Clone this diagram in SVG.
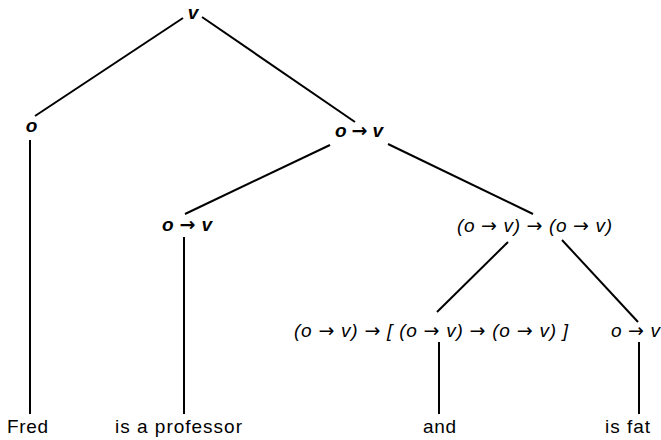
<svg xmlns="http://www.w3.org/2000/svg" width="661" height="440" viewBox="0 0 661 440">
<style>
.lab{font-family:"Liberation Sans","DejaVu Sans",sans-serif;font-style:italic;font-size:19px;fill:#000}
.b{font-weight:bold}
.ar{font-family:"DejaVu Sans",sans-serif;font-style:normal;font-size:19px}
.word{font-family:"Liberation Sans","DejaVu Sans",sans-serif;font-size:19px;fill:#000}
.edge{stroke:#000;stroke-width:2;fill:none;stroke-linecap:butt}
</style>
<rect width="661" height="440" fill="#fff"/>
<g id="connectors">
<line class="edge" x1="183" y1="18" x2="35" y2="116"/>
<line class="edge" x1="202" y1="17" x2="355" y2="122"/>
<line class="edge" x1="330" y1="145" x2="185" y2="214"/>
<line class="edge" x1="388" y1="144" x2="533" y2="214"/>
<line class="edge" x1="30" y1="140" x2="30" y2="414"/>
<line class="edge" x1="184" y1="237" x2="184" y2="414"/>
<line class="edge" x1="508" y1="242" x2="437" y2="312"/>
<line class="edge" x1="562" y1="240" x2="638" y2="322"/>
<line class="edge" x1="439" y1="342" x2="439" y2="414"/>
<line class="edge" x1="639" y1="342" x2="639" y2="414"/>
</g>
<g id="n-v"><text class="lab b" x="193" y="19" text-anchor="middle">v</text></g>
<g id="n-o"><text class="lab b" x="31.5" y="132" text-anchor="middle">o</text></g>
<g id="n-ov1"><text class="lab b" x="335" y="137" textLength="48">o <tspan class="ar">→</tspan> v</text></g>
<g id="n-ov2"><text class="lab b" x="162" y="231" textLength="50">o <tspan class="ar">→</tspan> v</text></g>
<g id="n-ovov"><text class="lab" x="457" y="232" textLength="155">(o <tspan class="ar">→</tspan> v) <tspan class="ar">→</tspan> (o <tspan class="ar">→</tspan> v)</text></g>
<g id="n-and-type"><text class="lab" x="294" y="337" textLength="274">(o <tspan class="ar">→</tspan> v) <tspan class="ar">→</tspan> [ (o <tspan class="ar">→</tspan> v) <tspan class="ar">→</tspan> (o <tspan class="ar">→</tspan> v) ]</text></g>
<g id="n-ov3"><text class="lab" x="611" y="337" textLength="49">o <tspan class="ar">→</tspan> v</text></g>
<g id="w-fred"><text class="word" x="7" y="433" textLength="41">Fred</text></g>
<g id="w-prof"><text class="word" x="115" y="433" textLength="127">is a professor</text></g>
<g id="w-and"><text class="word" x="423" y="433" textLength="33">and</text></g>
<g id="w-fat"><text class="word" x="605" y="433" textLength="45">is fat</text></g>
</svg>
